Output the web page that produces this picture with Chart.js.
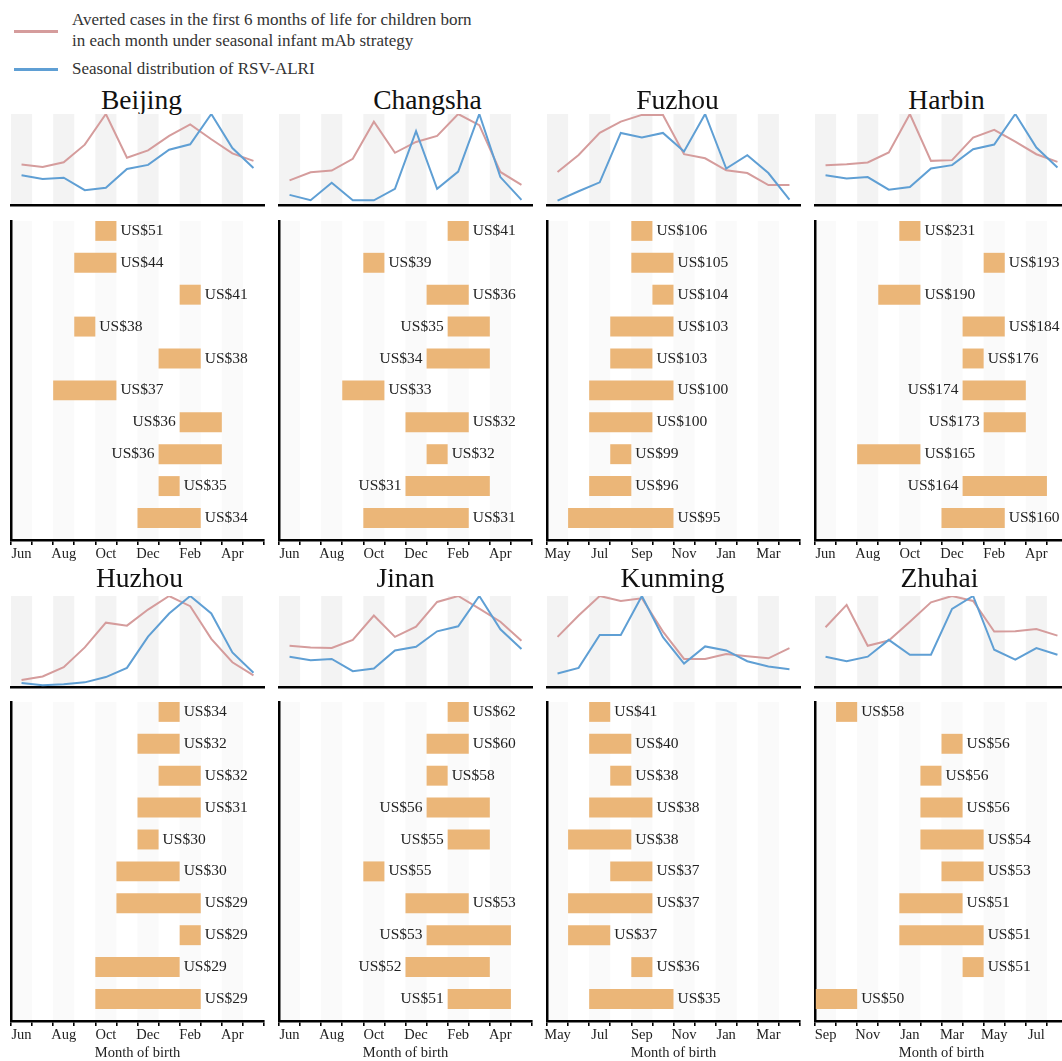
<!DOCTYPE html>
<html>
<head>
<meta charset="utf-8">
<script src="https://cdn.jsdelivr.net/npm/chart.js@4.4.1/dist/chart.umd.min.js"></script>
<style>
  html, body { margin: 0; padding: 0; background: #fff; }
  body {
    width: 1062px; height: 1061px; overflow: hidden; position: relative;
    font-family: "Liberation Serif", "Times New Roman", serif; color: #222;
  }
  canvas { position: absolute; }
  .city {
    position: absolute; width: 253px; text-align: center; white-space: nowrap;
    font-size: 27.5px; line-height: 27.5px; color: #111;
  }
  .key { position: absolute; left: 14px; width: 44px; height: 3px; }
  .key-text {
    position: absolute; left: 72px; white-space: nowrap;
    font-size: 17px; line-height: 21px; color: #333;
  }
</style>
</head>
<body>
<div class="key" style="top:30px; background:#d59c9c;"></div>
<div class="key-text" style="top:9px;">Averted cases in the first 6 months of life for children born<br>in each month under seasonal infant mAb strategy</div>
<div class="key" style="top:68px; background:#5f9fd4;"></div>
<div class="key-text" style="top:58px;">Seasonal distribution of RSV-ALRI</div>

<script>
// ---- data -------------------------------------------------------------
const cities = ['Beijing', 'Changsha', 'Fuzhou', 'Harbin', 'Huzhou', 'Jinan', 'Kunming', 'Zhuhai'];
const monthNames = ['Jan', 'Feb', 'Mar', 'Apr', 'May', 'Jun', 'Jul', 'Aug', 'Sep', 'Oct', 'Nov', 'Dec'];
// first month shown on each city's axis (12 months follow it)
const axisStartMonth = ['Jun', 'Jun', 'May', 'Jun', 'Jun', 'Jun', 'May', 'Sep'];

// relative averted cases by month of birth (peak = 1)
const avertedShare = [
  [0.444, 0.419, 0.470, 0.663, 1.000, 0.519, 0.600, 0.759, 0.885, 0.722, 0.567, 0.485],
  [0.270, 0.359, 0.378, 0.507, 0.915, 0.574, 0.693, 0.759, 1.000, 0.878, 0.363, 0.222],
  [0.362, 0.550, 0.792, 0.917, 0.990, 0.990, 0.558, 0.513, 0.381, 0.351, 0.219, 0.219],
  [0.438, 0.449, 0.467, 0.577, 1.000, 0.485, 0.493, 0.741, 0.825, 0.697, 0.558, 0.474],
  [0.076, 0.116, 0.217, 0.435, 0.707, 0.674, 0.851, 1.000, 0.888, 0.529, 0.272, 0.127],
  [0.453, 0.435, 0.428, 0.518, 0.786, 0.551, 0.663, 0.935, 1.000, 0.862, 0.717, 0.507],
  [0.551, 0.786, 1.000, 0.946, 0.975, 0.609, 0.308, 0.308, 0.362, 0.337, 0.315, 0.428],
  [0.656, 0.902, 0.453, 0.511, 0.717, 0.931, 1.000, 0.946, 0.609, 0.612, 0.638, 0.565]
];
// relative seasonal distribution of RSV-ALRI (peak = 1)
const rsvShare = [
  [0.326, 0.285, 0.300, 0.163, 0.189, 0.396, 0.441, 0.607, 0.667, 1.000, 0.626, 0.407],
  [0.111, 0.052, 0.244, 0.052, 0.052, 0.178, 0.811, 0.178, 0.367, 1.000, 0.307, 0.056],
  [0.049, 0.151, 0.249, 0.792, 0.743, 0.792, 0.589, 1.000, 0.400, 0.547, 0.351, 0.060],
  [0.328, 0.292, 0.307, 0.168, 0.197, 0.401, 0.438, 0.613, 0.664, 1.000, 0.631, 0.412],
  [0.043, 0.018, 0.029, 0.051, 0.109, 0.210, 0.554, 0.808, 1.000, 0.808, 0.380, 0.156],
  [0.333, 0.293, 0.308, 0.174, 0.203, 0.402, 0.442, 0.612, 0.667, 1.000, 0.634, 0.417],
  [0.149, 0.210, 0.572, 0.572, 1.000, 0.547, 0.257, 0.446, 0.402, 0.283, 0.225, 0.196],
  [0.333, 0.283, 0.333, 0.518, 0.355, 0.355, 0.859, 1.000, 0.409, 0.301, 0.428, 0.355]
];

// top ten immunisation windows per city: cost per averted case (US$)
const costPerCase = [
  [51, 44, 41, 38, 38, 37, 36, 36, 35, 34],
  [41, 39, 36, 35, 34, 33, 32, 32, 31, 31],
  [106, 105, 104, 103, 103, 100, 100, 99, 96, 95],
  [231, 193, 190, 184, 176, 174, 173, 165, 164, 160],
  [34, 32, 32, 31, 30, 30, 29, 29, 29, 29],
  [62, 60, 58, 56, 55, 55, 53, 53, 52, 51],
  [41, 40, 38, 38, 38, 37, 37, 37, 36, 35],
  [58, 56, 56, 56, 54, 53, 51, 51, 51, 50]
];
// window start / end, in months from the first axis month
const windowFrom = [
  [4, 3, 8, 3, 7, 2, 8, 7, 7, 6],
  [8, 4, 7, 8, 7, 3, 6, 7, 6, 4],
  [4, 4, 5, 3, 3, 2, 2, 3, 2, 1],
  [4, 8, 3, 7, 7, 7, 8, 2, 7, 6],
  [7, 6, 7, 6, 6, 5, 5, 8, 4, 4],
  [8, 7, 7, 7, 8, 4, 6, 7, 6, 8],
  [2, 2, 3, 2, 1, 3, 1, 1, 4, 2],
  [1, 6, 5, 5, 5, 6, 4, 4, 7, 0]
];
const windowTo = [
  [5, 5, 9, 4, 9, 5, 10, 10, 8, 9],
  [9, 5, 9, 10, 10, 5, 9, 8, 10, 9],
  [5, 6, 6, 6, 5, 6, 5, 4, 4, 6],
  [5, 9, 5, 9, 8, 10, 10, 5, 11, 9],
  [8, 8, 9, 9, 7, 8, 9, 9, 8, 9],
  [9, 9, 8, 10, 10, 5, 9, 11, 10, 11],
  [3, 4, 4, 5, 4, 5, 5, 3, 5, 6],
  [2, 7, 6, 7, 8, 8, 7, 8, 8, 2]
];

// ---- layout -----------------------------------------------------------
Chart.defaults.font.family = '"Liberation Serif", "Times New Roman", serif';
Chart.defaults.color = '#222';

const COLORS = { averted: '#d59c9c', rsv: '#5f9fd4', bar: '#ebb678',
                 stripeTop: '#f3f3f3', stripeBottom: '#fafafa', axis: '#000' };
const colLeft = [11, 279, 547, 815];
const titleShift = [4, 22, 4, 5, 2, 0, -1, -2];
const PLOT_W = 253;
const PAD_X = 20;
const rows = [
  { titleTop: 86,  lineTop: 114, lineBottom: 205, barTop: 221, barBottom: 540, axisH: 28, xTitle: false },
  { titleTop: 564, lineTop: 596, lineBottom: 687, barTop: 702, barBottom: 1021, axisH: 45, xTitle: true }
];

function axisMonths(start) {
  const s = monthNames.indexOf(start);
  return Array.from({ length: 12 }, (_, i) => monthNames[(s + i) % 12]);
}

function addCanvas(left, top, w, h) {
  const c = document.createElement('canvas');
  c.width = w; c.height = h;
  c.style.left = left + 'px'; c.style.top = top + 'px';
  c.style.width = w + 'px'; c.style.height = h + 'px';
  document.body.appendChild(c);
  return c;
}

// alternating month bands behind each panel
const monthStripes = {
  id: 'monthStripes',
  beforeDraw(chart, args, opts) {
    const { ctx, chartArea: a, scales: { x } } = chart;
    ctx.save();
    ctx.fillStyle = opts.color;
    for (let m = 0; m < 12; m += 2) {
      const x1 = x.getPixelForValue(m), x2 = x.getPixelForValue(m + 1);
      ctx.fillRect(x1, a.top, x2 - x1, a.bottom - a.top);
    }
    ctx.restore();
  }
};

// "US$nn" next to every window bar; placed left of bars that run late into the axis
const costLabels = {
  id: 'costLabels',
  afterDatasetsDraw(chart, args, opts) {
    const { ctx } = chart;
    const meta = chart.getDatasetMeta(0);
    const data = chart.data.datasets[0].data;
    ctx.save();
    ctx.font = '15.5px "Liberation Serif", "Times New Roman", serif';
    ctx.fillStyle = '#222';
    ctx.textBaseline = 'middle';
    meta.data.forEach((bar, i) => {
      const { x, base, y } = bar.getProps(['x', 'base', 'y'], true);
      const text = 'US$' + opts.values[i];
      if (data[i].x[1] >= 10) {
        ctx.textAlign = 'right';
        ctx.fillText(text, Math.min(x, base) - 4, y);
      } else {
        ctx.textAlign = 'left';
        ctx.fillText(text, Math.max(x, base) + 4, y);
      }
    });
    ctx.restore();
  }
};

const monthTicks = s => { s.ticks = Array.from({ length: 13 }, (_, i) => ({ value: i })); };

cities.forEach((city, k) => {
  const col = k % 4, row = rows[Math.floor(k / 4)];
  const x0 = colLeft[col];
  const months = axisMonths(axisStartMonth[k]);

  const title = document.createElement('div');
  title.className = 'city';
  title.style.left = (x0 + titleShift[k]) + 'px';
  title.style.top = row.titleTop + 'px';
  title.textContent = city;
  document.body.appendChild(title);

  // seasonal profile lines
  const lineCanvas = addCanvas(x0 - PAD_X, row.lineTop - 6, PLOT_W + 2 * PAD_X,
                               6 + (row.lineBottom - row.lineTop) + 4);
  new Chart(lineCanvas, {
    type: 'line',
    data: {
      datasets: [
        { data: rsvShare[k].map((v, i) => ({ x: i + 0.5, y: v })),
          borderColor: COLORS.rsv, borderWidth: 2, pointRadius: 0, tension: 0 },
        { data: avertedShare[k].map((v, i) => ({ x: i + 0.5, y: v })),
          borderColor: COLORS.averted, borderWidth: 2, pointRadius: 0, tension: 0 }
      ]
    },
    options: {
      responsive: false, animation: false, events: [],
      layout: { padding: { left: PAD_X, right: PAD_X, top: 6, bottom: 4 } },
      plugins: { legend: { display: false }, tooltip: { enabled: false },
                 monthStripes: { color: COLORS.stripeTop } },
      scales: {
        x: { type: 'linear', min: 0, max: 12, afterBuildTicks: monthTicks,
             afterFit: s => { s.height = 0; },
             grid: { display: false }, ticks: { display: false },
             border: { display: true, color: COLORS.axis, width: 2.5 } },
        y: { type: 'linear', min: 0, max: 1, display: false }
      }
    },
    plugins: [monthStripes]
  });

  // ranked immunisation windows
  const barCanvas = addCanvas(x0 - PAD_X, row.barTop - 6, PLOT_W + 2 * PAD_X,
                              6 + (row.barBottom - row.barTop) + row.axisH);
  new Chart(barCanvas, {
    type: 'bar',
    data: {
      datasets: [{
        data: windowFrom[k].map((s, i) => ({ x: [s, windowTo[k][i]], y: i })),
        backgroundColor: COLORS.bar, borderWidth: 0,
        barPercentage: 0.625, categoryPercentage: 1
      }]
    },
    options: {
      indexAxis: 'y', responsive: false, animation: false, events: [],
      layout: { padding: { left: PAD_X, right: PAD_X, top: 6, bottom: 0 } },
      plugins: { legend: { display: false }, tooltip: { enabled: false },
                 monthStripes: { color: COLORS.stripeBottom },
                 costLabels: { values: costPerCase[k] } },
      scales: {
        x: { type: 'linear', min: 0, max: 12, afterBuildTicks: monthTicks,
             afterFit: s => { s.height = row.axisH; },
             grid: { display: true, drawOnChartArea: false, drawTicks: true, tickLength: 5,
                     color: COLORS.axis, lineWidth: 1.6 },
             border: { display: true, color: COLORS.axis, width: 2.5 },
             ticks: { autoSkip: false, maxRotation: 0, minRotation: 0, padding: 0,
                      labelOffset: PLOT_W / 24, color: '#222', font: { size: 14.5 },
                      callback: (v, i) => (i % 2 === 0 && i < 12) ? months[i] : '' },
             title: { display: row.xTitle, text: 'Month of birth', color: '#222',
                      font: { size: 14.5 }, padding: { top: 0, bottom: 4 } } },
        y: { type: 'linear', reverse: true, min: -0.31, max: 9.69, offset: false,
             afterBuildTicks: s => { s.ticks = Array.from({ length: 10 }, (_, i) => ({ value: i })); },
             afterFit: s => { s.width = 0; },
             grid: { display: false }, ticks: { display: false },
             border: { display: true, color: COLORS.axis, width: 2.5 } }
      }
    },
    plugins: [monthStripes, costLabels]
  });
});
</script>
</body>
</html>
